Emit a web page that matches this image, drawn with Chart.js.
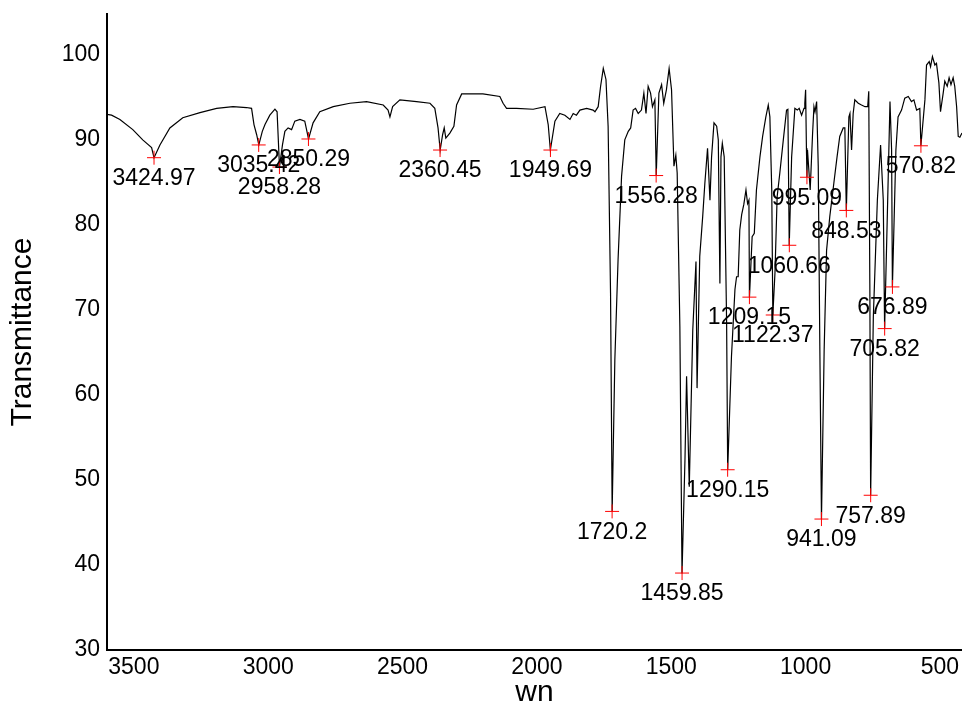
<!DOCTYPE html>
<html><head><meta charset="utf-8">
<script src="https://cdn.jsdelivr.net/npm/chart.js@4.4.0/dist/chart.umd.min.js"></script>
<style>html,body{margin:0;padding:0;background:#fff;overflow:hidden}</style>
</head><body>
<canvas id="c" width="962" height="711" style="display:block;width:962px;height:711px"></canvas>
<script>
const spectrumWn = [3600,3583,3552,3504,3467,3434,3425,3403,3366,3318,3254,3192,3131,3081,3062,3053,3043,3035,3022,3012,2994,2975,2967,2958,2947,2938,2926,2913,2901,2882,2864,2850,2833,2808,2758,2696,2634,2572,2554,2547,2537,2510,2448,2398,2380,2368,2360,2351,2345,2339,2324,2309,2299,2280,2201,2138,2126,2113,2076,2014,1970,1958,1950,1933,1915,1896,1877,1865,1853,1840,1815,1791,1784,1772,1763,1753,1743,1735,1726,1720,1710,1698,1685,1673,1660,1651,1642,1633,1623,1611,1602,1594,1586,1577,1570,1561,1556,1546,1536,1528,1518,1508,1499,1490,1483,1478,1468,1460,1449,1443,1433,1420,1408,1404,1394,1383,1375,1365,1356,1350,1341,1331,1325,1319,1315,1310,1303,1294,1290,1276,1263,1257,1251,1245,1238,1230,1222,1216,1211,1209,1199,1191,1183,1170,1160,1148,1139,1133,1126,1122,1114,1106,1096,1083,1071,1066,1061,1052,1040,1031,1024,1015,1006,1003,1000,997,995,993,983,974,969,965,959,953,947,941,931,922,910,895,883,873,860,854,848.5,839,835,829,823,817,804,792,779,769,765,761,758,748,733,721,711,706,696,686,680,677,664,656,643,631,618,606,597,587,575,571,556,550,540,535,528,519,513,504,498,488,482,473,466,459,451,445,438,432,426,418];
const spectrumT = [93.0,92.9,92.4,91.2,90.0,89.1,87.9,89.4,91.4,92.6,93.2,93.7,93.9,93.8,93.7,91.8,90.6,89.4,91.0,91.8,92.9,93.6,93.3,86.8,89.4,91.0,91.4,91.2,92.2,92.4,92.2,90.1,92.0,93.3,93.9,94.3,94.5,94.1,93.5,92.7,93.9,94.7,94.5,94.3,93.7,91.4,88.8,90.6,91.4,90.2,90.8,91.6,94.1,95.4,95.4,95.1,94.3,93.7,93.7,93.6,93.9,91.8,88.8,92.2,93.1,92.9,92.4,93.1,92.9,93.5,93.7,93.5,93.3,93.9,96.3,98.4,97.1,91.6,72.0,46.3,64.1,75.9,85.7,90.0,91.0,91.4,93.5,93.7,93.1,93.5,95.5,93.1,96.3,95.5,93.9,94.7,85.8,95.5,96.5,94.3,95.9,98.4,95.9,86.9,88.2,86.1,68.0,39.0,52.4,62.2,49.2,67.6,75.7,60.8,76.3,81.0,84.9,89.0,82.9,88.0,92.0,91.6,90.0,73.1,88.0,89.6,88.0,68.4,51.2,64.5,72.4,73.9,73.9,79.4,81.2,82.4,84.1,82.5,82.9,71.5,78.6,79.0,84.1,88.0,90.4,92.7,94.1,92.7,84.1,69.4,74.4,83.3,86.1,90.0,93.5,93.6,77.6,88.0,93.7,93.5,93.7,92.9,93.7,94.3,95.9,89.0,85.6,88.8,84.1,90.8,93.9,93.3,94.5,86.9,65.3,45.4,65.3,77.0,81.0,84.9,88.0,90.4,91.4,91.4,81.7,92.7,93.1,88.8,93.1,94.7,94.3,94.1,93.9,93.9,95.7,73.1,48.2,69.2,82.9,89.4,82.9,67.8,81.0,94.5,88.8,72.7,88.8,92.7,93.5,94.9,95.1,94.5,94.7,93.5,93.7,89.3,94.7,98.8,99.2,98.6,99.8,98.8,99.0,96.7,93.3,95.5,96.9,96.3,97.3,96.5,97.3,96.3,93.9,90.4,90.3,90.8];
const peakWn = [3424.97,3035.42,2958.28,2850.29,2360.45,1949.69,1720.2,1556.28,1459.85,1290.15,1209.15,1122.37,1060.66,995.09,941.09,848.53,757.89,705.82,676.89,570.82];
const peakT = [87.9,89.4,86.8,90.1,88.8,88.8,46.3,85.8,39.05,51.2,71.5,69.4,77.6,85.6,45.4,81.7,48.2,67.8,72.7,89.3];
const peakLabels = ["3424.97","3035.42","2958.28","2850.29","2360.45","1949.69","1720.2","1556.28","1459.85","1290.15","1209.15","1122.37","1060.66","995.09","941.09","848.53","757.89","705.82","676.89","570.82"];
const xTicks = [3500,3000,2500,2000,1500,1000,500];
const yTicks = [30,40,50,60,70,80,90,100];

const FONT = '"Liberation Sans", Arial, Helvetica, sans-serif';
Chart.defaults.font.family = FONT;
Chart.defaults.color = '#000';

const peakLabelPlugin = {
  id: 'peakLabels',
  afterDatasetsDraw(chart) {
    const {ctx, scales: {x, y}} = chart;
    ctx.save();
    ctx.font = '23px ' + FONT;
    ctx.fillStyle = '#000';
    ctx.textAlign = 'center';
    ctx.textBaseline = 'middle';
    peakWn.forEach((w, i) => {
      ctx.fillText(peakLabels[i], x.getPixelForValue(w), y.getPixelForValue(peakT[i]) + 21);
    });
    ctx.restore();
  }
};

new Chart(document.getElementById('c'), {
  type: 'scatter',
  data: {
    datasets: [
      {
        label: 'peaks',
        data: peakWn.map((w, i) => ({x: w, y: peakT[i]})),
        pointStyle: 'cross',
        pointRadius: 7,
        pointBorderColor: '#ff0000',
        pointBorderWidth: 1,
        borderColor: '#ff0000',
        showLine: false,
        clip: false,
        order: 0
      },
      {
        label: 'spectrum',
        data: spectrumWn.map((w, i) => ({x: w, y: spectrumT[i]})),
        showLine: true,
        borderColor: '#000',
        borderWidth: 1.2,
        pointRadius: 0,
        tension: 0,
        order: 1
      }
    ]
  },
  options: {
    responsive: false,
    animation: false,
    devicePixelRatio: 1,
    layout: {autoPadding: false, padding: {top: 14, right: 0, bottom: 0, left: 0}},
    plugins: {legend: {display: false}, tooltip: {enabled: false}},
    scales: {
      x: {
        type: 'linear', reverse: true, min: 418, max: 3600,
        afterBuildTicks: s => { s.ticks = xTicks.map(v => ({value: v})); },
        afterFit: s => { s.height = 61; s.paddingLeft = 0; s.paddingRight = 0; },
        grid: {display: false, drawTicks: false},
        border: {display: true, color: '#000', width: 2},
        ticks: {color: '#000', font: {size: 23, family: FONT}, padding: 4, maxRotation: 0, autoSkip: false,
                callback: v => String(v)},
        title: {display: true, text: 'wn', color: '#000', font: {size: 30, family: FONT}, padding: {top: 0, bottom: 0}}
      },
      y: {
        type: 'linear', min: 30, max: 104.8,
        afterBuildTicks: s => { s.ticks = yTicks.map(v => ({value: v})); },
        afterFit: s => { s.width = 107; s.paddingTop = 0; s.paddingBottom = 0; },
        grid: {display: false, drawTicks: false},
        border: {display: true, color: '#000', width: 2},
        ticks: {color: '#000', font: {size: 23, family: FONT}, padding: 7, autoSkip: false,
                callback: v => String(v)},
        title: {display: true, text: 'Transmittance', color: '#000', font: {size: 30, family: FONT}, padding: {top: 5, bottom: 0}}
      }
    }
  },
  plugins: [peakLabelPlugin]
});
</script>
</body></html>
